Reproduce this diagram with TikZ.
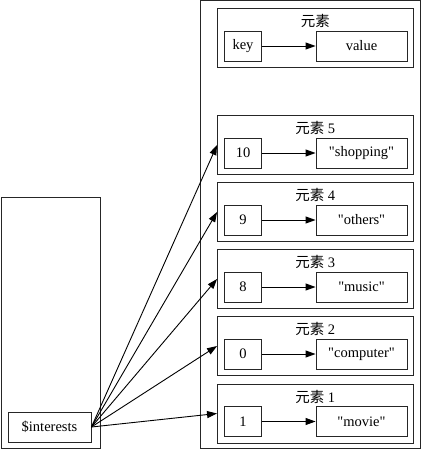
\documentclass[tikz,border=0pt]{standalone}
\usepackage{fontspec}
\setmainfont[Ligatures=TeXOff]{Liberation Serif}
\newfontfamily\cjk{Noto Sans CJK SC}
\usetikzlibrary{arrows.meta}

\begin{document}
\begin{tikzpicture}[x=1pt,y=-1pt,
  box/.style={draw=black!85,line width=0.9pt,inner sep=0pt,minimum height=30pt},
  frame/.style={draw=black!85,line width=0.9pt,inner sep=0pt,minimum width=195.5pt,minimum height=59pt},
  link/.style={line width=0.9pt,-{Triangle[length=10pt,width=7pt]}},
  font=\fontsize{14.5}{17}\selectfont]
\useasboundingbox (0,0) rectangle (421,450);

% the two outer frames
\draw[black!85,line width=0.9pt] (200,0.5) rectangle (420.5,448);
\draw[black!85,line width=0.9pt] (1,197) rectangle (100,448);

\path (49.5,427) node[box,minimum width=83pt](Interests){\$interests};

% legend element
\path (315.25,38) node[frame](Elem0){} (315.25,21) node{\cjk 元素}
  (243,46) node[box,minimum width=37.5pt](Key0){key} (361.5,46) node[box,minimum width=91pt](Val0){value};
\draw[link] (Key0) -- (Val0);

\foreach \n/\k/\v/\y in {5/10/"shopping"/145,4/9/"others"/212,3/8/"music"/279,2/0/"computer"/346,1/1/"movie"/413.5}{
  \path (315.25,\y) node[frame](Elem\n){} (315.25,\y-17) node{{\cjk 元素} \n}
    (243,\y+8) node[box,minimum width=37.5pt](Key\n){\k} (361.5,\y+8) node[box,minimum width=91pt](Val\n){\v};
  \draw[link] (Key\n) -- (Val\n);
  \draw[link] (Interests.east) -- (Elem\n.west);
}
\end{tikzpicture}
\end{document}
